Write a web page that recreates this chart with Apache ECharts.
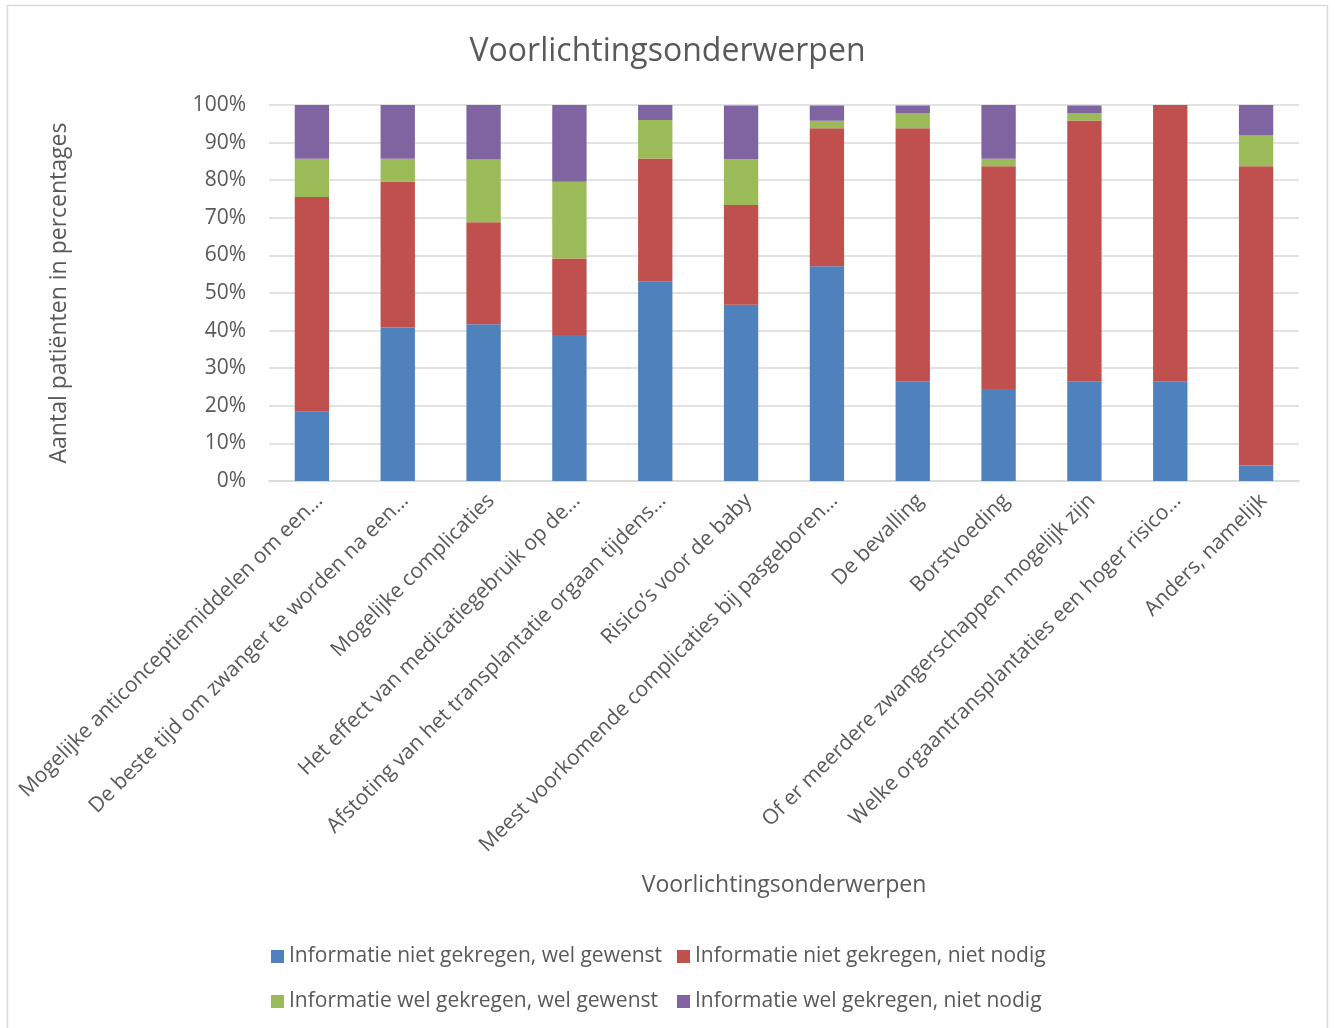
<!DOCTYPE html>
<html>
<head>
<meta charset="utf-8">
<script src="https://cdn.jsdelivr.net/npm/echarts@6/dist/echarts.min.js"></script>
<style>
  html, body { margin: 0; padding: 0; background: #ffffff; }
  #chart { width: 1335px; height: 1028px; }
</style>
</head>
<body>
<div id="chart"></div>
<script>
// Onderwerpen (as shown, long names truncated)
const categories = [
  'Mogelijke anticonceptiemiddelen om een…',
  'De beste tijd om zwanger te worden na een…',
  'Mogelijke complicaties',
  'Het effect van medicatiegebruik op de…',
  'Afstoting van het transplantatie orgaan tijdens…',
  'Risico’s voor de baby',
  'Meest voorkomende complicaties bij pasgeboren…',
  'De bevalling',
  'Borstvoeding',
  'Of er meerdere zwangerschappen mogelijk zijn',
  'Welke orgaantransplantaties een hoger risico…',
  'Anders, namelijk'
];

// Percentage of patients per answer category
const nietGekregenWelGewenst = [18.4, 40.8, 41.7, 38.8, 53.1, 46.9, 57.1, 26.5, 24.5, 26.5, 26.5, 4.1];
const nietGekregenNietNodig  = [57.1, 38.8, 27.1, 20.4, 32.7, 26.5, 36.7, 67.3, 59.2, 69.4, 73.5, 79.6];
const welGekregenWelGewenst  = [10.2, 6.1, 16.7, 20.4, 10.2, 12.2, 2.0, 4.1, 2.0, 2.0, 0, 8.2];
const welGekregenNietNodig   = [14.3, 14.3, 14.5, 20.4, 4.0, 14.3, 4.1, 2.0, 14.3, 2.0, 0, 8.1];

const seriesNames = [
  'Informatie niet gekregen, wel gewenst',
  'Informatie niet gekregen, niet nodig',
  'Informatie wel gekregen, wel gewenst',
  'Informatie wel gekregen, niet nodig'
];
const seriesData = [nietGekregenWelGewenst, nietGekregenNietNodig, welGekregenWelGewenst, welGekregenNietNodig];
const colors = ['#4f81bd', '#c0504d', '#9bbb59', '#8064a2'];

const textColor = '#595959';
const font = 'Open Sans';

const legendPos = [
  { left: 271, top: 946 },
  { left: 677, top: 946 },
  { left: 271, top: 991 },
  { left: 677, top: 991 }
];

const chart = echarts.init(document.getElementById('chart'), null, { renderer: 'canvas' });

chart.setOption({
  backgroundColor: '#ffffff',
  animation: false,
  color: colors,
  graphic: [{
    type: 'rect',
    shape: { x: 7.5, y: 5.5, width: 1320, height: 1030 },
    style: { fill: 'none', stroke: '#d9d9d9', lineWidth: 1.5 },
    silent: true
  }],
  title: {
    text: 'Voorlichtingsonderwerpen',
    left: 'center',
    top: 31,
    textStyle: { fontFamily: font, fontSize: 32, fontWeight: 'normal', color: textColor }
  },
  legend: seriesNames.map((name, i) => ({
    data: [name],
    left: legendPos[i].left,
    top: legendPos[i].top,
    padding: 0,
    itemWidth: 13,
    itemHeight: 13,
    itemGap: 0,
    icon: 'rect',
    textStyle: { fontFamily: font, fontSize: 21, color: textColor }
  })),
  grid: { left: 269, right: 36, top: 105, height: 376, containLabel: false },
  xAxis: {
    type: 'category',
    data: categories,
    name: 'Voorlichtingsonderwerpen',
    nameLocation: 'middle',
    nameGap: 393,
    nameTextStyle: { fontFamily: font, fontSize: 23, color: textColor },
    axisLine: { lineStyle: { color: '#d9d9d9', width: 1.5 } },
    axisTick: { show: false },
    axisLabel: {
      interval: 0,
      rotate: 45,
      align: 'right',
      verticalAlign: 'top',
      fontFamily: font,
      fontSize: 21,
      color: textColor,
      margin: 9
    }
  },
  yAxis: {
    type: 'value',
    min: 0,
    max: 100,
    interval: 10,
    name: 'Aantal patiënten in percentages',
    nameLocation: 'middle',
    nameRotate: 90,
    nameGap: 198,
    nameTextStyle: { fontFamily: font, fontSize: 23, color: textColor },
    axisLine: { show: false },
    axisTick: { show: false },
    splitLine: { lineStyle: { color: '#d9d9d9', width: 1.5 } },
    axisLabel: {
      formatter: '{value}%',
      fontFamily: font,
      fontSize: 21,
      color: textColor,
      margin: 23
    }
  },
  series: seriesNames.map((name, i) => ({
    name: name,
    type: 'bar',
    stack: 'totaal',
    barCategoryGap: '60%',
    data: seriesData[i],
    itemStyle: { color: colors[i] }
  }))
});
</script>
</body>
</html>
